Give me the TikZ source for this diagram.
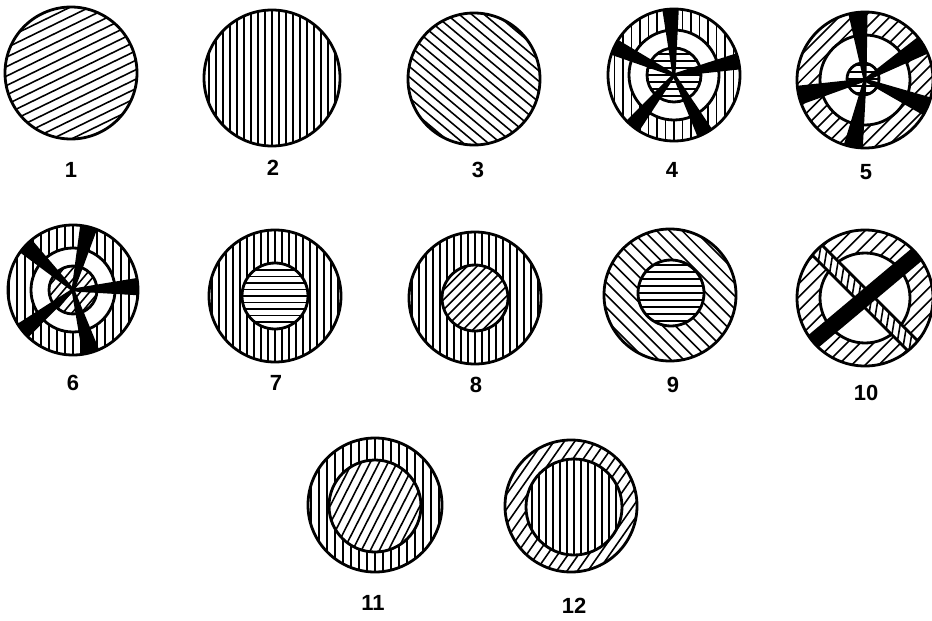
\documentclass[tikz,border=0pt]{standalone}
\usepackage{fontspec}
\setsansfont{Liberation Sans}
\usepackage{tikz}
% parallel lines inside a disc: centre, radius, angle, spacing
\newcommand{\hatchdisc}[4]{%
  \begin{scope}
    \clip #1 circle (#2);
    \begin{scope}[shift={#1}, rotate=#3]
      \foreach \k in {-20,...,20}
        \draw[hatch] (-#2-5, \k*#4) -- (#2+5, \k*#4);
    \end{scope}
  \end{scope}}
% black wedges from the centre: centre, radius, half angle, angles
\newcommand{\spokes}[4]{%
  \begin{scope}
    \clip #1 circle (#2);
    \begin{scope}[shift={#1}]
      \foreach \a in {#4}
        \fill[black] (\a-90:1.5) -- (\a-#3:#2+8) -- (\a+#3:#2+8) -- (\a+90:1.5) -- cycle;
    \end{scope}
  \end{scope}}

\begin{document}
\begin{tikzpicture}[x=0.02cm, y=0.02cm,
    hatch/.style={line width=0.9pt},
    rim/.style={line width=1.6pt},
    num/.style={font=\sffamily\bfseries\fontsize{12.5}{15}\selectfont}]
  \useasboundingbox (0,0) rectangle (932,620);

  % first row
  \hatchdisc{(71,547)}{66}{26}{8.5}
  \draw[rim] (71,547) circle (66);
  \hatchdisc{(272,542)}{68}{90}{7}
  \draw[rim] (272,542) circle (68);
  \hatchdisc{(474,541)}{66}{-40}{8}
  \draw[rim] (474,541) circle (66);

  \hatchdisc{(674,545)}{66}{90}{8.5}
  \fill[white] (674,545) circle (45);
  \hatchdisc{(674,545)}{27}{0}{7}
  \draw[rim] (674,545) circle (45);
  \draw[rim] (674,545) circle (27);
  \spokes{(674,545)}{66}{7}{93,155,12,231,298}
  \draw[rim] (674,545) circle (66);

  \hatchdisc{(865,540)}{68}{45}{9}
  \fill[white] (865,540) circle (45);
  \hatchdisc{(863,541)}{16}{0}{7}
  \draw[rim] (865,540) circle (45);
  \draw[rim] (863,541) circle (16);
  \spokes{(865,540)}{68}{8}{96,31,193,337,260}
  \draw[rim] (865,540) circle (68);

  % second row
  \hatchdisc{(73,330)}{65}{90}{8}
  \fill[white] (73,330) circle (42);
  \hatchdisc{(73,330)}{24}{50}{7}
  \draw[rim] (73,330) circle (42);
  \draw[rim] (73,330) circle (24);
  \spokes{(73,330)}{65}{7.5}{137,76,3,219,286}
  \draw[rim] (73,330) circle (65);

  \hatchdisc{(275,324)}{66}{90}{7}
  \fill[white] (275,324) circle (33);
  \hatchdisc{(275,324)}{33}{0}{6.5}
  \draw[rim] (275,324) circle (33);
  \draw[rim] (275,324) circle (66);

  \hatchdisc{(475,322)}{66}{90}{7}
  \fill[white] (475,322) circle (33);
  \hatchdisc{(475,322)}{33}{45}{7}
  \draw[rim] (475,322) circle (33);
  \draw[rim] (475,322) circle (66);

  \hatchdisc{(670,325)}{66}{-45}{9}
  \fill[white] (671,327) circle (33);
  \hatchdisc{(671,327)}{33}{0}{7}
  \draw[rim] (671,327) circle (33);
  \draw[rim] (670,325) circle (66);

  \hatchdisc{(865,322)}{68}{45}{9.5}
  \fill[white] (865,322) circle (45);
  \draw[rim] (865,322) circle (45);
  \begin{scope}
    \clip (865,322) circle (68);
    \begin{scope}[shift={(865,322)}, rotate=-45]
      \fill[white] (-75,-7) rectangle (75,7);
      \begin{scope}
        \clip (-75,-7) rectangle (75,7);
        \foreach \k in {-10,...,10}
          \draw[hatch] (\k*8+5,-7) -- (\k*8-5,7);
      \end{scope}
      \draw[rim] (-75,-7) -- (75,-7) (-75,7) -- (75,7);
    \end{scope}
    \begin{scope}[shift={(865,322)}, rotate=40]
      \fill[black] (-75,-8) rectangle (75,8);
    \end{scope}
  \end{scope}
  \draw[rim] (865,322) circle (68);

  % third row
  \hatchdisc{(375,115)}{67}{90}{8}
  \fill[white] (375,114) circle (46);
  \hatchdisc{(375,114)}{46}{63}{8}
  \draw[rim] (375,114) circle (46);
  \draw[rim] (375,115) circle (67);

  \hatchdisc{(571,114)}{66}{55}{8.5}
  \fill[white] (574,113) circle (48);
  \hatchdisc{(574,113)}{48}{90}{7}
  \draw[rim] (574,113) circle (48);
  \draw[rim] (571,114) circle (66);

  % numbers
  \node[num] (n1) at (71,450) {1};
  \node[num] (n2) at (273,452) {2};
  \node[num] (n3) at (478,450) {3};
  \node[num] (n4) at (672,450) {4};
  \node[num] (n5) at (866,448) {5};
  \node[num] (n6) at (73,237) {6};
  \node[num] (n7) at (276,237) {7};
  \node[num] (n8) at (476,235) {8};
  \node[num] (n9) at (673,235) {9};
  \node[num] (n10) at (866,227) {10};
  \node[num] (n11) at (373,17) {11};
  \node[num] (n12) at (574,14) {12};
\end{tikzpicture}
\end{document}
